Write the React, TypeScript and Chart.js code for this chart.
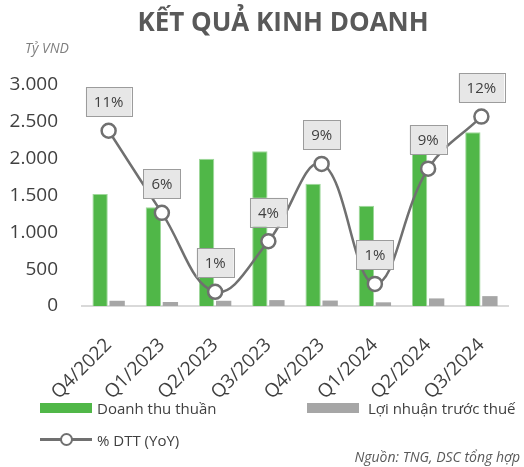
import React, { useEffect, useRef } from "react";
import { Chart, registerables } from "chart.js";

Chart.register(...registerables);

const categories = ["Q4/2022", "Q1/2023", "Q2/2023", "Q3/2023", "Q4/2023", "Q1/2024", "Q2/2024", "Q3/2024"];
const revenue = [1520, 1340, 2000, 2100, 1660, 1360, 2090, 2360];
const profit = [71, 54, 71, 80, 74, 50, 103, 134];
const yoy = [11.1, 5.9, 0.9, 4.1, 9.0, 1.4, 8.7, 12.0];
const yMin = 0;
const yMax = 3000;
const yStep = 500;
const y1Max = 14;

const FONT = "'Open Sans', 'Noto Sans', sans-serif";
const GREEN = "#50b748";
const GRAY = "#a6a6a6";
const LINE = "#707070";
const TEXT = "#404040";

const labelPlugin = {
  id: "boxLabels",
  afterDatasetsDraw(chart: any) {
    const meta = chart.getDatasetMeta(2);
    const ctx = chart.ctx;
    ctx.save();
    ctx.font = `15px ${FONT}`;
    ctx.textAlign = "center";
    ctx.textBaseline = "middle";
    meta.data.forEach((pt: any, i: number) => {
      const text = `${Math.round(yoy[i])}%`;
      const w = ctx.measureText(text).width + 16;
      const h = 29;
      const cx = pt.x;
      const cy = pt.y - 29;
      ctx.fillStyle = "#e7e7e7";
      ctx.fillRect(cx - w / 2, cy - h / 2, w, h);
      ctx.strokeStyle = "#9c9c9c";
      ctx.lineWidth = 1;
      ctx.strokeRect(Math.round(cx - w / 2) + 0.5, Math.round(cy - h / 2) + 0.5, Math.round(w), h);
      ctx.fillStyle = TEXT;
      ctx.fillText(text, cx, cy + 1);
    });
    ctx.restore();
  },
};

export default function App() {
  const ref = useRef<HTMLCanvasElement>(null);
  useEffect(() => {
    if (!ref.current) return;
    const chart = new Chart(ref.current, {
      type: "bar",
      data: {
        labels: categories,
        datasets: [
          {
            type: "bar",
            label: "Doanh thu thuần",
            data: revenue,
            backgroundColor: GREEN,
            borderColor: "#9fd89b",
            borderWidth: 1,
            yAxisID: "y",
            order: 1,
            categoryPercentage: 0.64,
            barPercentage: 0.9,
          },
          {
            type: "bar",
            label: "Lợi nhuận trước thuế",
            data: profit,
            backgroundColor: GRAY,
            yAxisID: "y",
            order: 2,
            categoryPercentage: 0.64,
            barPercentage: 0.9,
          },
          {
            type: "line",
            label: "% DTT (YoY)",
            data: yoy,
            borderColor: LINE,
            borderWidth: 2.5,
            pointRadius: 7,
            pointBorderWidth: 2.5,
            pointBackgroundColor: "#ffffff",
            pointBorderColor: LINE,
            tension: 0.4,
            yAxisID: "y1",
            order: 0,
          } as any,
        ],
      },
      options: {
        animation: false,
        responsive: false,
        layout: { padding: { top: 85, left: 0, right: 16, bottom: 67 } },
        plugins: {
          legend: { display: false },
          tooltip: { enabled: false },
          title: { display: false },
        },
        scales: {
          x: {
            grid: { display: false },
            border: { display: true, color: "#d9d9d9", width: 2 },
            ticks: {
              minRotation: 45,
              maxRotation: 45,
              padding: 20,
              color: TEXT,
              font: { family: FONT, size: 19 },
            },
            afterFit(scale: any) {
              scale.height = 94;
            },
          },
          y: {
            min: yMin,
            max: yMax,
            grid: { display: false },
            border: { display: false },
            ticks: {
              stepSize: yStep,
              padding: 16,
              color: TEXT,
              font: { family: FONT, size: 19 },
              callback: (v: any) => Number(v).toLocaleString("de-DE"),
            },
            afterFit(scale: any) {
              scale.width = 82;
            },
          },
          y1: {
            display: false,
            min: 0,
            max: y1Max,
            position: "right",
          },
        },
      },
      plugins: [labelPlugin],
    });
    return () => chart.destroy();
  }, []);

  const legendText: React.CSSProperties = {
    position: "absolute",
    fontFamily: FONT,
    fontSize: 15,
    color: TEXT,
    lineHeight: "20px",
    whiteSpace: "nowrap",
  };

  return (
    <div style={{ position: "absolute", left: 0, top: 0, width: 524, height: 467, background: "#fff", overflow: "hidden" }}>
      <canvas ref={ref} width={524} height={467} style={{ position: "absolute", left: 0, top: 0 }} />
      <div
        style={{
          position: "absolute",
          left: 0,
          top: 3,
          width: 566,
          textAlign: "center",
          fontFamily: FONT,
          fontWeight: 700,
          fontSize: 26,
          color: "#595959",
          lineHeight: "36px",
          whiteSpace: "nowrap",
        }}
      >
        KẾT QUẢ KINH DOANH
      </div>
      <div style={{ position: "absolute", left: 25, top: 38, fontFamily: FONT, fontStyle: "italic", fontSize: 14, color: "#7f7f7f", lineHeight: "20px" }}>
        Tỷ VND
      </div>
      <div style={{ position: "absolute", left: 40, top: 403, width: 52, height: 10, background: GREEN }} />
      <div style={{ ...legendText, left: 97, top: 398 }}>Doanh thu thuần</div>
      <div style={{ position: "absolute", left: 307, top: 403, width: 52, height: 10, background: GRAY }} />
      <div style={{ ...legendText, left: 368, top: 398 }}>Lợi nhuận trước thuế</div>
      <div style={{ position: "absolute", left: 40, top: 438, width: 52, height: 3, background: LINE }} />
      <div
        style={{
          position: "absolute",
          left: 60,
          top: 433,
          width: 9,
          height: 9,
          borderRadius: "50%",
          border: `2.5px solid ${LINE}`,
          background: "#fff",
        }}
      />
      <div style={{ ...legendText, left: 97, top: 430 }}>% DTT (YoY)</div>
      <div
        style={{
          position: "absolute",
          right: 4,
          top: 447,
          fontFamily: FONT,
          fontStyle: "italic",
          fontSize: 14,
          color: "#595959",
          lineHeight: "20px",
          whiteSpace: "nowrap",
        }}
      >
        Nguồn: TNG, DSC tổng hợp
      </div>
    </div>
  );
}
